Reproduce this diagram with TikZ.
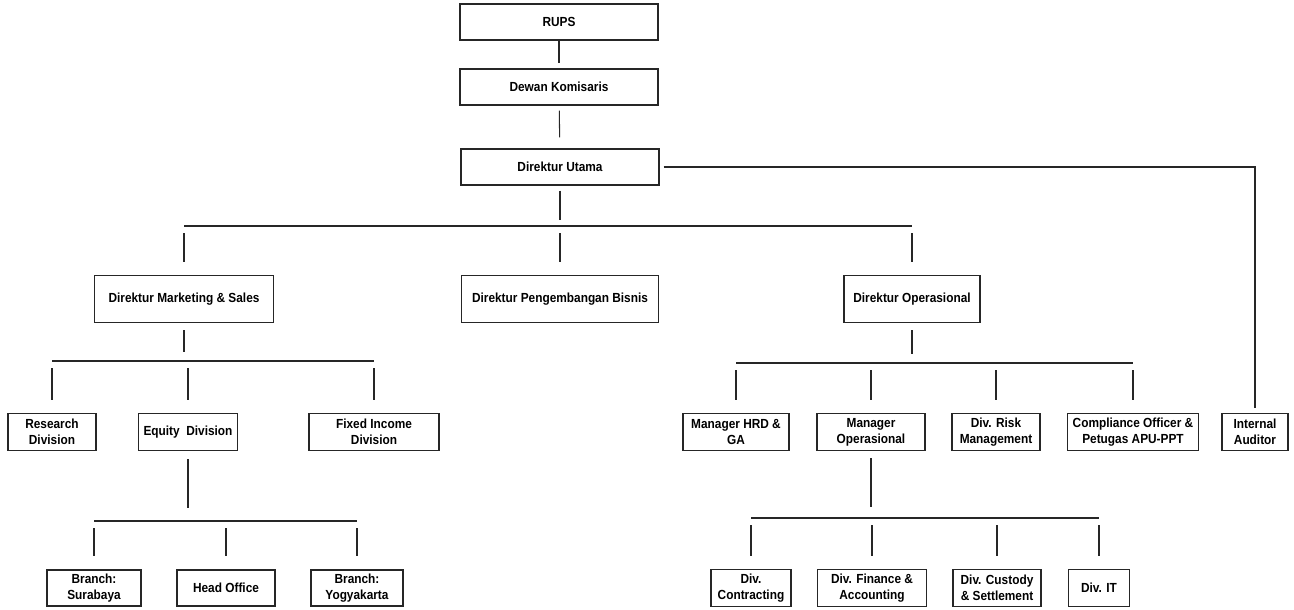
\documentclass[tikz,border=0pt]{standalone}
\usepackage{fontspec}
\setmainfont{Liberation Sans}[FakeStretch=0.9]
\begin{document}
\begin{tikzpicture}[x=0.02cm,y=-0.02cm,
	box/.style={draw=black!85, line width=0.8pt, inner sep=1pt, align=center, font=\bfseries\fontsize{7.5}{9}\selectfont},
	link/.style={draw=black!85, line width=0.6pt},
	stem/.style={link, shorten <=0.14cm, shorten >=0.18cm},
	drop/.style={link, shorten <=0.14cm, shorten >=0.26cm}]
	\useasboundingbox (0,0) rectangle (1294,609);

	% top
	\node[box, minimum width=3.96cm, minimum height=0.72cm] (rups) at (559,22) {RUPS};
	\node[box, minimum width=3.96cm, minimum height=0.72cm] (dewan) at (559,87) {Dewan Komisaris};
	\node[box, minimum width=3.96cm, minimum height=0.72cm] (utama) at (560,167) {Direktur Utama};
	\draw[link, shorten >=0.1cm] (rups) -- (dewan);
	\draw[link, shorten <=0.1cm, shorten >=0.22cm] (dewan) -- (utama);

	% direktur
	\node[box, minimum width=3.58cm, minimum height=0.94cm] (dms) at (184,299) {Direktur Marketing \& Sales};
	\node[box, minimum width=3.94cm, minimum height=0.94cm] (dpb) at (560,299) {Direktur Pengembangan Bisnis};
	\node[box, minimum width=2.72cm, minimum height=0.94cm] (dop) at (912,299) {Direktur Operasional};
	\coordinate (b1) at (560,226);
	\draw[link, shorten <=0.1cm, shorten >=0.12cm] (utama) -- (b1);
	\draw[link] (dms |- b1) -- (dop |- b1);
	\foreach \n in {dms,dpb,dop}
		\draw[drop] (\n |- b1) -- (\n.north);

	% marketing
	\node[box, minimum width=1.76cm, minimum height=0.74cm] (research) at (52,432) {Research\\Division};
	\node[box, minimum width=1.98cm, minimum height=0.74cm] (equity) at (188,432) {Equity~~Division};
	\node[box, minimum width=2.6cm, minimum height=0.74cm] (fixed) at (374,432) {Fixed Income\\Division};
	\coordinate (b2) at (184,361);
	\draw[stem] (dms) -- (b2);
	\draw[link] (research |- b2) -- (fixed |- b2);
	\foreach \n in {research,equity,fixed}
		\draw[drop] (\n |- b2) -- (\n.north);

	% equity
	\node[box, minimum width=1.88cm, minimum height=0.72cm] (surabaya) at (94,588) {Branch:\\Surabaya};
	\node[box, minimum width=1.96cm, minimum height=0.72cm] (headoffice) at (226,588) {Head Office};
	\node[box, minimum width=1.84cm, minimum height=0.72cm] (yogya) at (357,588) {Branch:\\Yogyakarta};
	\coordinate (b3) at (188,521);
	\draw[link, shorten <=0.16cm, shorten >=0.26cm] (equity) -- (b3);
	\draw[link] (surabaya |- b3) -- (yogya |- b3);
	\foreach \n in {surabaya,headoffice,yogya}
		\draw[drop] (\n |- b3) -- (\n.north);

	% operasional
	\node[box, minimum width=2.12cm, minimum height=0.74cm] (hrd) at (736,432) {Manager HRD \&\\GA};
	\node[box, minimum width=2.16cm, minimum height=0.74cm] (mgrop) at (871,432) {Manager\\Operasional};
	\node[box, minimum width=1.76cm, minimum height=0.74cm] (risk) at (996,432) {Div. Risk\\Management};
	\node[box, minimum width=2.62cm, minimum height=0.74cm] (compliance) at (1133,432) {Compliance Officer \&\\Petugas APU-PPT};
	\node[box, minimum width=1.32cm, minimum height=0.74cm] (auditor) at (1255,432) {Internal\\Auditor};
	\coordinate (b4) at (912,363);
	\draw[stem] (dop) -- (b4);
	\draw[link] (hrd |- b4) -- (compliance |- b4);
	\foreach \n in {hrd,mgrop,risk,compliance}
		\draw[drop] (\n |- b4) -- (\n.north);
	\draw[link, shorten <=0.08cm, shorten >=0.1cm] (utama.east) -| (auditor.north);

	% manager operasional
	\node[box, minimum width=1.6cm, minimum height=0.74cm] (contracting) at (751,588) {Div.\\Contracting};
	\node[box, minimum width=2.18cm, minimum height=0.74cm] (finance) at (872,588) {Div. Finance \&\\Accounting};
	\node[box, minimum width=1.76cm, minimum height=0.74cm] (custody) at (997,588) {Div. Custody\\\& Settlement};
	\node[box, minimum width=1.22cm, minimum height=0.74cm] (it) at (1099,588) {Div. IT};
	\coordinate (b5) at (871,518);
	\draw[link, shorten <=0.14cm, shorten >=0.22cm] (mgrop) -- (b5);
	\draw[link] (contracting |- b5) -- (it |- b5);
	\foreach \n in {contracting,finance,custody,it}
		\draw[drop] (\n |- b5) -- (\n.north);
\end{tikzpicture}
\end{document}
